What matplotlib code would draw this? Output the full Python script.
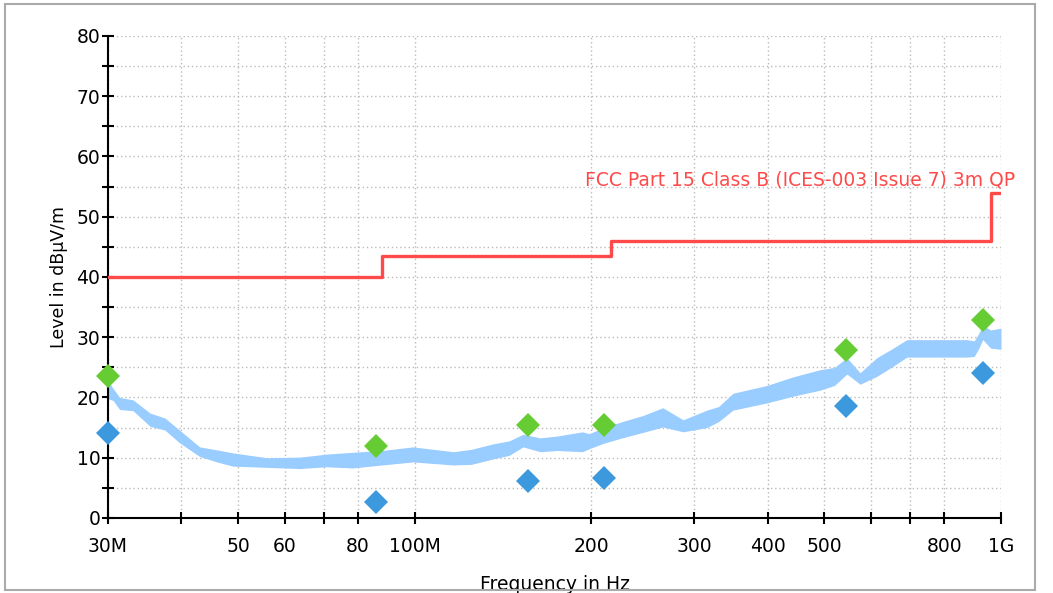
import matplotlib
matplotlib.use("Agg")
import matplotlib.pyplot as plt
from matplotlib.patches import Rectangle
import numpy as np

plt.rcParams['font.family'] = ['DejaVu Sans']

trace_f = [30, 30.6, 31.4, 33.1, 35.4, 37.5, 39.7, 43.0, 46.0, 49.0, 56.0, 63.7, 70.7,
           78.3, 88, 99.3, 116.5, 125, 136.0, 145, 153.1, 163.6, 175, 193.2, 198.6,
           210, 226, 245, 265, 287, 315, 330, 349, 399, 441, 491, 520, 546, 575,
           614, 650, 691, 776, 874, 900, 915, 931, 960, 1000]
trace_lo = [19.8, 19.5, 18.0, 17.8, 15.2, 14.6, 12.5, 10.2, 9.3, 8.6, 8.4, 8.2, 8.5,
            8.3, 8.8, 9.3, 8.8, 8.9, 9.8, 10.4, 11.8, 11.0, 11.2, 11.0, 11.5,
            12.4, 13.3, 14.2, 15.1, 14.3, 15.0, 16.0, 17.9, 19.1, 20.2, 21.2, 22.0, 23.9, 22.2,
            23.5, 25.0, 26.7, 26.7, 26.7, 26.8, 28.0, 29.6, 28.2, 28.0]
trace_hi = [22.8, 21.5, 20.0, 19.6, 17.4, 16.6, 14.6, 11.8, 11.3, 10.8, 10.0, 10.1, 10.6,
            10.9, 11.2, 11.8, 11.0, 11.4, 12.3, 12.8, 13.9, 13.3, 13.6, 14.3, 14.0,
            15.0, 16.0, 17.0, 18.3, 16.3, 17.9, 18.5, 20.7, 22.0, 23.4, 24.6, 25.0, 26.6, 24.1,
            26.6, 28.0, 29.6, 29.6, 29.6, 29.4, 30.5, 32.0, 31.2, 31.5]

# FCC limit (step line)
limit_f = [30, 88, 88, 216, 216, 960, 960, 1000]
limit_db = [40, 40, 43.5, 43.5, 46, 46, 54, 54]
limit_name = "FCC Part 15 Class B (ICES-003 Issue 7) 3m QP"

# peak (green) and QP (blue) finals
final_f = [30, 86, 156, 210, 544, 931]
peak_db = [23.5, 12.0, 15.4, 15.5, 27.9, 32.9]
qp_db = [14.1, 2.7, 6.1, 6.7, 18.6, 24.1]

xticks = [30, 40, 50, 60, 70, 80, 100, 200, 300, 400, 500, 600, 700, 800, 1000]
xticklabels = ["30M", "", "50", "60", "", "80", "100M", "200", "300", "400", "500", "", "", "800", "1G"]

fig = plt.figure(figsize=(10.53, 5.93), dpi=100)
ax = fig.add_axes([0.1026, 0.1265, 0.8480, 0.8128])

ax.fill_between(trace_f, trace_lo, trace_hi, color='#99ccff', lw=0, zorder=2)
ax.plot(limit_f, limit_db, color='#ff4a4a', lw=2.4, zorder=3)
ax.text(195, 55.2, limit_name, color='#ff4a4a', fontsize=13.5, zorder=3)
ax.plot(final_f, peak_db, 'D', color='#66cc33', ms=12, mew=0, zorder=4, clip_on=False)
ax.plot(final_f, qp_db, 'D', color='#3d99dd', ms=12, mew=0, zorder=4, clip_on=False)

ax.set_xscale('log')
ax.set_xlim(30, 1000)
ax.set_ylim(0, 80)
ax.set_xticks(xticks)
ax.set_xticklabels(xticklabels)
ax.xaxis.set_minor_locator(matplotlib.ticker.NullLocator())
ax.set_yticks(np.arange(0, 81, 10))
ax.set_yticks(np.arange(5, 80, 10), minor=True)

ax.grid(True, which='both', color='#bbbbbb', ls=(0, (1, 2)), lw=1)
ax.set_axisbelow(True)
for s in ['top', 'right']:
    ax.spines[s].set_visible(False)
for s in ['left', 'bottom']:
    ax.spines[s].set_linewidth(1.5)

ax.tick_params(axis='y', which='both', direction='inout', length=9, width=1.5, labelsize=13.5, pad=1)
ax.tick_params(axis='x', which='both', direction='inout', length=9, width=1.5, labelsize=13.5, pad=9)

ax.set_ylabel("Level in dBµV/m", fontsize=12.5, labelpad=6)
ax.set_xlabel("Frequency in Hz", fontsize=13.5, labelpad=14)

fig.patches.append(Rectangle((5 / 1053, 3 / 593), 1030 / 1053, 586 / 593,
                             transform=fig.transFigure, fill=False,
                             edgecolor='#aaaaaa', lw=1.5))

fig.savefig("out.png", dpi=100)
